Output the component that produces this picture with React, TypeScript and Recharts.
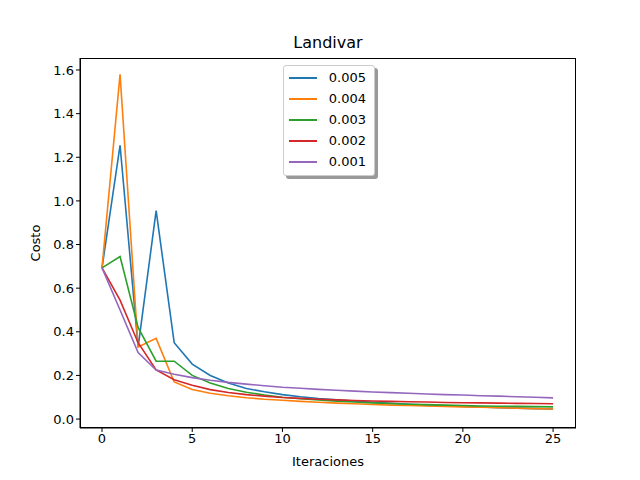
import React from 'react';
import { LineChart, Line, XAxis, YAxis } from 'recharts';

const iters = Array.from({ length: 26 }, (_, i) => i);
const lr005 = [0.693, 1.255, 0.33, 0.955, 0.35, 0.252, 0.2, 0.165, 0.14, 0.125, 0.112, 0.102, 0.094, 0.088, 0.082, 0.077, 0.072, 0.068, 0.064, 0.061, 0.058, 0.055, 0.052, 0.05, 0.048, 0.046];
const lr004 = [0.693, 1.58, 0.33, 0.37, 0.17, 0.135, 0.118, 0.107, 0.098, 0.091, 0.086, 0.081, 0.077, 0.073, 0.07, 0.067, 0.064, 0.062, 0.06, 0.058, 0.056, 0.054, 0.052, 0.05, 0.048, 0.046];
const lr003 = [0.693, 0.745, 0.42, 0.265, 0.265, 0.2, 0.165, 0.14, 0.123, 0.11, 0.1, 0.093, 0.087, 0.082, 0.078, 0.074, 0.071, 0.068, 0.066, 0.064, 0.062, 0.06, 0.059, 0.058, 0.057, 0.056];
const lr002 = [0.693, 0.545, 0.35, 0.225, 0.18, 0.155, 0.135, 0.122, 0.112, 0.105, 0.099, 0.095, 0.091, 0.088, 0.085, 0.083, 0.081, 0.079, 0.078, 0.076, 0.075, 0.074, 0.073, 0.072, 0.071, 0.07];
const lr001 = [0.693, 0.5, 0.305, 0.225, 0.205, 0.19, 0.178, 0.168, 0.16, 0.153, 0.146, 0.141, 0.136, 0.132, 0.128, 0.124, 0.121, 0.118, 0.115, 0.112, 0.11, 0.107, 0.105, 0.102, 0.1, 0.097];
const yTicks = [0, 0.2, 0.4, 0.6, 0.8, 1.0, 1.2, 1.4, 1.6];
const xTicks = [0, 5, 10, 15, 20, 25];

const series = [
  { key: '0.005', values: lr005, color: '#1f77b4' },
  { key: '0.004', values: lr004, color: '#ff7f0e' },
  { key: '0.003', values: lr003, color: '#2ca02c' },
  { key: '0.002', values: lr002, color: '#d62728' },
  { key: '0.001', values: lr001, color: '#9467bd' },
];

const data = iters.map((it, i) => {
  const row: Record<string, number> = { it };
  series.forEach(s => { row[s.key] = s.values[i]; });
  return row;
});

const tickStyle = { fill: '#000', fontSize: 13 };

function LegendBox() {
  return (
    <div style={{
      position: 'absolute', left: 283, top: 65, boxSizing: 'border-box',
      background: '#fff', border: '1px solid #ccc', borderRadius: 3,
      boxShadow: '3px 3px 0 #999', padding: '1px 8px 3px 5px', width: 92,
    }}>
      {series.map(s => (
        <div key={s.key} style={{ display: 'flex', alignItems: 'center', height: 21, fontSize: 13 }}>
          <span style={{ display: 'inline-block', width: 28, height: 2, background: s.color, marginRight: 12 }} />
          {s.key}
        </div>
      ))}
    </div>
  );
}

export default function App() {
  return (
    <div style={{ position: 'absolute', left: 0, top: 0, width: 640, height: 480, background: '#fff', fontFamily: 'DejaVu Sans' }}>
      <div style={{ position: 'absolute', top: 33, width: 656, textAlign: 'center', fontSize: 16 }}>Landivar</div>
      <LineChart width={640} height={480} data={data} margin={{ top: 58, right: 64, bottom: 22, left: 30 }}>
        <XAxis dataKey="it" type="number" domain={[-1.22, 26.27]} ticks={xTicks} allowDataOverflow
          stroke="#000" tick={tickStyle} tickSize={4} height={30} />
        <YAxis type="number" domain={[-0.041, 1.655]} ticks={yTicks} allowDataOverflow width={50}
          tickFormatter={(v: number) => v.toFixed(1)} stroke="#000" tick={tickStyle} tickSize={4} />
        {series.map(s => (
          <Line key={s.key} dataKey={s.key} stroke={s.color} strokeWidth={1.6} dot={false} isAnimationActive={false} />
        ))}
      </LineChart>
      <div style={{ position: 'absolute', left: 80, top: 58, width: 496, height: 370, boxSizing: 'border-box', border: '1px solid #000', pointerEvents: 'none' }} />
      <div style={{ position: 'absolute', top: 454, left: 80, width: 496, textAlign: 'center', fontSize: 13 }}>Iteraciones</div>
      <div style={{ position: 'absolute', left: 35, top: 243, fontSize: 13, transform: 'translate(-50%, -50%) rotate(-90deg)' }}>Costo</div>
      <LegendBox />
    </div>
  );
}
